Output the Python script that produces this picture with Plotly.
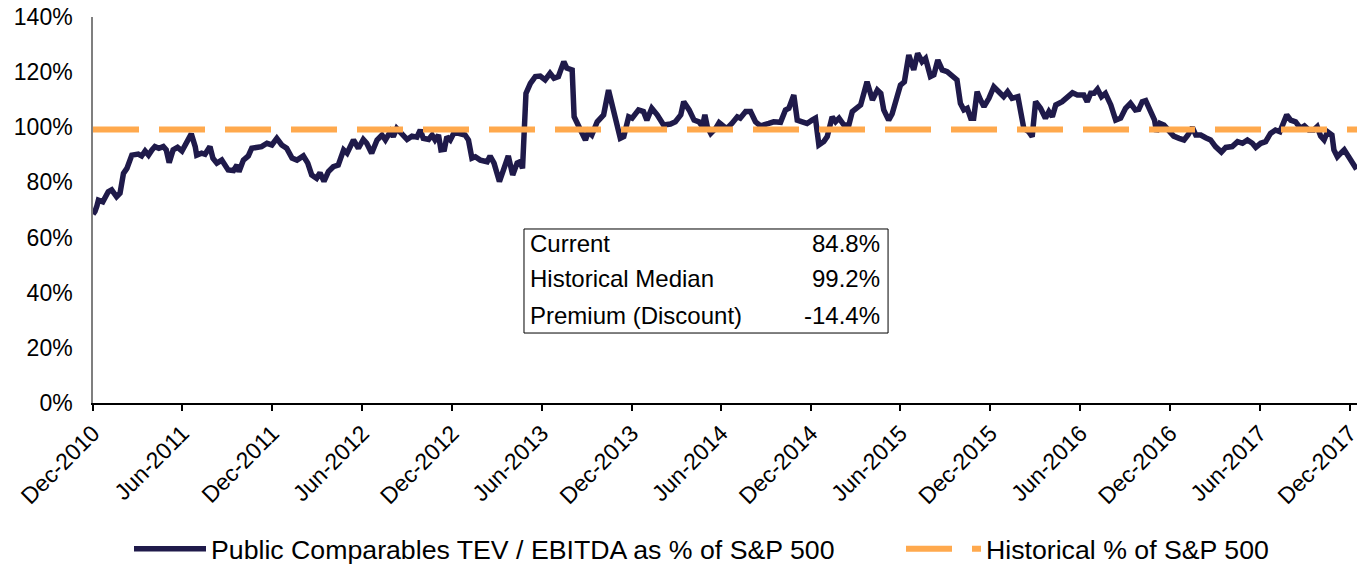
import pandas as pd
import plotly.graph_objects as go

# ---- data ----
start_date = "2010-12-01"
day_offsets = [
    0, 4, 8, 11, 20, 31, 38, 48, 55, 62,
    69, 79, 92, 99, 106, 113, 120, 126, 134, 143,
    149, 155, 163, 172, 181, 191, 200, 208, 211, 221,
    228, 238, 244, 252, 262, 275, 286, 293, 297, 306,
    316, 323, 333, 343, 354, 364, 374, 384, 394, 405,
    415, 428, 437, 445, 455, 462, 470, 479, 489, 499,
    510, 517, 530, 540, 550, 557, 567, 578, 588, 595,
    605, 611, 618, 629, 639, 649, 659, 666, 672, 683,
    690, 696, 703, 708, 715, 720, 727, 734, 744, 757,
    764, 771, 778, 788, 802, 808, 816, 827, 835, 845,
    854, 863, 869, 874, 881, 890, 900, 910, 920, 930,
    938, 947, 958, 964, 975, 979, 992, 1002, 1008, 1015,
    1026, 1039, 1049, 1059, 1073, 1080, 1090, 1097, 1110, 1120,
    1127, 1137, 1148, 1161, 1175, 1185, 1196, 1202, 1213, 1223,
    1233, 1240, 1245, 1250, 1257, 1267, 1274, 1284, 1290, 1300,
    1311, 1317, 1328, 1338, 1348, 1358, 1368, 1375, 1385, 1392,
    1399, 1409, 1416, 1426, 1433, 1443, 1453, 1463, 1470, 1477,
    1487, 1494, 1504, 1511, 1518, 1528, 1538, 1545, 1555, 1562,
    1575, 1586, 1596, 1603, 1609, 1619, 1626, 1633, 1643, 1651,
    1660, 1670, 1678, 1687, 1694, 1704, 1711, 1719, 1728, 1738,
    1748, 1758, 1765, 1772, 1779, 1786, 1792, 1799, 1806, 1813,
    1823, 1833, 1843, 1853, 1861, 1870, 1882, 1891, 1894, 1904,
    1911, 1918, 1928, 1938, 1945, 1952, 1959, 1972, 1983, 1993,
    2003, 2016, 2023, 2030, 2037, 2044, 2052, 2060, 2071, 2081,
    2091, 2101, 2111, 2121, 2128, 2135, 2142, 2152, 2160, 2164,
    2171, 2179, 2189, 2199, 2210, 2220, 2228, 2237, 2244, 2254,
    2264, 2274, 2284, 2296, 2305, 2318, 2329, 2339, 2349, 2359,
    2366, 2376, 2386, 2396, 2406, 2415, 2429, 2437, 2447, 2457,
    2465, 2474, 2484, 2491, 2498, 2505, 2512, 2521, 2525, 2532,
    2539, 2546, 2555, 2564, 2571,
]
tev_pct = [
    68.5, 69.5, 71.5, 73.6, 73.0, 76.6, 77.3, 74.8, 76.1, 83.3,
    85.1, 89.9, 90.3, 89.6, 91.4, 89.9, 91.8, 93.0, 92.4, 93.0,
    91.8, 87.2, 91.8, 92.7, 91.4, 94.2, 97.6, 93.0, 89.9, 90.6,
    90.2, 93.0, 88.8, 87.0, 88.1, 84.5, 84.3, 86.3, 83.9, 88.1,
    89.6, 92.4, 92.7, 93.0, 94.2, 93.6, 96.0, 93.6, 92.4, 88.8,
    88.1, 89.6, 87.0, 82.7, 81.5, 83.5, 80.4, 83.9, 85.7, 86.3,
    91.8, 90.6, 95.4, 92.4, 95.6, 94.2, 90.6, 95.4, 97.2, 95.4,
    98.4, 96.6, 99.6, 97.2, 95.6, 96.8, 96.4, 99.0, 96.0, 95.6,
    97.2, 95.4, 97.2, 91.8, 92.0, 96.6, 95.4, 97.8, 97.8, 97.2,
    95.4, 88.8, 89.3, 88.1, 87.5, 89.6, 87.0, 80.3, 84.5, 89.6,
    82.7, 87.0, 87.5, 85.1, 112.3, 115.9, 118.4, 118.6, 117.2, 119.6,
    117.8, 118.4, 123.8, 121.5, 120.8, 103.8, 99.0, 95.4, 98.4, 97.2,
    102.0, 104.5, 113.5, 106.3, 96.0, 96.6, 103.8, 103.3, 106.3, 105.7,
    102.6, 106.9, 104.5, 100.8, 101.2, 102.0, 104.5, 109.3, 106.3, 102.6,
    102.0, 100.2, 104.5, 100.2, 97.8, 99.6, 101.7, 100.2, 99.6, 101.4,
    103.8, 103.3, 105.7, 105.7, 102.0, 100.5, 100.8, 101.4, 102.0, 102.0,
    101.8, 106.3, 106.9, 111.7, 102.6, 102.0, 101.4, 102.6, 103.3, 93.6,
    94.8, 96.6, 103.8, 102.0, 103.3, 100.8, 100.8, 105.7, 107.5, 108.1,
    116.5, 109.9, 113.5, 112.3, 106.3, 102.6, 104.8, 109.3, 115.3, 116.5,
    126.2, 120.8, 126.8, 123.8, 125.0, 118.4, 119.0, 124.4, 120.8, 120.2,
    119.0, 117.2, 108.7, 106.3, 106.9, 103.3, 103.3, 112.9, 109.9, 107.5,
    110.5, 114.7, 112.9, 111.1, 112.9, 110.5, 111.1, 102.6, 99.6, 98.4,
    96.6, 109.3, 106.9, 103.3, 105.7, 103.8, 108.1, 109.3, 111.1, 112.5,
    111.7, 111.7, 109.3, 112.3, 112.3, 113.8, 111.1, 112.3, 108.1, 102.6,
    103.3, 106.9, 108.7, 106.3, 106.5, 109.3, 109.7, 106.3, 102.6, 98.4,
    101.4, 100.8, 99.0, 96.8, 96.0, 95.4, 97.2, 100.0, 97.2, 97.2,
    96.2, 95.4, 93.0, 91.0, 92.7, 93.0, 94.8, 94.2, 95.4, 94.2,
    92.7, 94.2, 94.8, 97.8, 99.0, 98.4, 104.5, 102.6, 102.0, 99.6,
    100.5, 99.0, 99.0, 100.2, 96.8, 95.4, 98.4, 97.2, 91.8, 89.3,
    90.6, 91.8, 89.3, 87.2, 84.8,
]
historical_median = 99.2
axis_end_days = 2574

tick_dates = ["2010-12-01", "2011-06-01", "2011-12-01", "2012-06-01", "2012-12-01",
              "2013-06-01", "2013-12-01", "2014-06-01", "2014-12-01", "2015-06-01",
              "2015-12-01", "2016-06-01", "2016-12-01", "2017-06-01", "2017-12-01"]
tick_labels = ["Dec-2010", "Jun-2011", "Dec-2011", "Jun-2012", "Dec-2012",
               "Jun-2013", "Dec-2013", "Jun-2014", "Dec-2014", "Jun-2015",
               "Dec-2015", "Jun-2016", "Dec-2016", "Jun-2017", "Dec-2017"]
y_ticks = [0, 20, 40, 60, 80, 100, 120, 140]
y_tick_labels = ["0%", "20%", "40%", "60%", "80%", "100%", "120%", "140%"]

stat_labels = ["Current", "Historical Median", "Premium (Discount)"]
current_val = tev_pct[-1]
stat_values = [current_val, historical_median, current_val - historical_median]

series_names = ["Public Comparables TEV / EBITDA as % of S&P 500", "Historical % of S&P 500"]

assert len(day_offsets) == len(tev_pct), (len(day_offsets), len(tev_pct))

# ---- build ----
base = pd.Timestamp(start_date)
dates = base + pd.to_timedelta(day_offsets, unit="D")
end_date = base + pd.Timedelta(days=axis_end_days)

NAVY = "#1f1a4a"
ORANGE = "#ffa94d"
FONT = "Liberation Sans, Arial, sans-serif"

# the page body adds an 8px offset; size the figure to fit the window
W, H = 1357, 559

fig = go.Figure()
fig.add_trace(go.Scatter(
    x=dates, y=tev_pct, mode="lines", name=series_names[0],
    line=dict(color=NAVY, width=5.5), legend="legend",
))
fig.add_trace(go.Scatter(
    x=[base, end_date], y=[historical_median, historical_median], mode="lines",
    name=series_names[1], legend="legend2",
    line=dict(color=ORANGE, width=6, dash="46px,20px"),
))

legend_common = dict(
    orientation="h", xref="container", yref="container",
    y=18 / H, xanchor="left", yanchor="middle",
    font=dict(size=26.7, family=FONT, color="black"),
    bgcolor="rgba(0,0,0,0)",
)

fig.update_layout(
    width=W, height=H,
    margin=dict(l=85, r=7, t=9, b=164, autoexpand=False),
    paper_bgcolor="white", plot_bgcolor="white",
    font=dict(family=FONT, size=23, color="black"),
    showlegend=True,
    legend=dict(x=121 / W, itemwidth=72, **legend_common),
    legend2=dict(x=893 / W, itemwidth=75, **legend_common),
    xaxis=dict(
        type="date", range=[base, end_date], automargin=False,
        tickmode="array", tickvals=tick_dates, ticktext=tick_labels,
        tickangle=-45, ticks="outside", ticklen=6, tickcolor="black", tickwidth=1.5,
        showline=True, linecolor="black", linewidth=1.5,
        showgrid=False, zeroline=False, ticklabeloverflow="allow",
        tickfont=dict(size=23, family=FONT, color="black"),
    ),
    yaxis=dict(
        range=[0, 140], tickmode="array", tickvals=y_ticks, ticktext=y_tick_labels,
        automargin=False, ticklabeloverflow="allow",
        showline=True, linecolor="#7f7f7f", linewidth=1.5,
        showgrid=False, zeroline=False, ticks="",
        ticklabelstandoff=14,
        tickfont=dict(size=23, family=FONT, color="black"),
    ),
)

# stats box
fig.add_shape(type="rect", xref="paper", yref="paper",
              x0=0.3407, x1=0.6285, y0=0.1813, y1=0.4508,
              line=dict(color="black", width=1), fillcolor="rgba(0,0,0,0)")
row_y = [0.4145, 0.3238, 0.2254]
for lab, val, yy in zip(stat_labels, stat_values, row_y):
    fig.add_annotation(xref="paper", yref="paper", x=0.3439, y=yy, text=lab,
                       showarrow=False, xanchor="left", yanchor="middle",
                       font=dict(size=24, family=FONT, color="black"))
    fig.add_annotation(xref="paper", yref="paper", x=0.6237, y=yy, text=f"{val:.1f}%",
                       showarrow=False, xanchor="right", yanchor="middle",
                       font=dict(size=24, family=FONT, color="black"))

fig.write_html("out.html")
